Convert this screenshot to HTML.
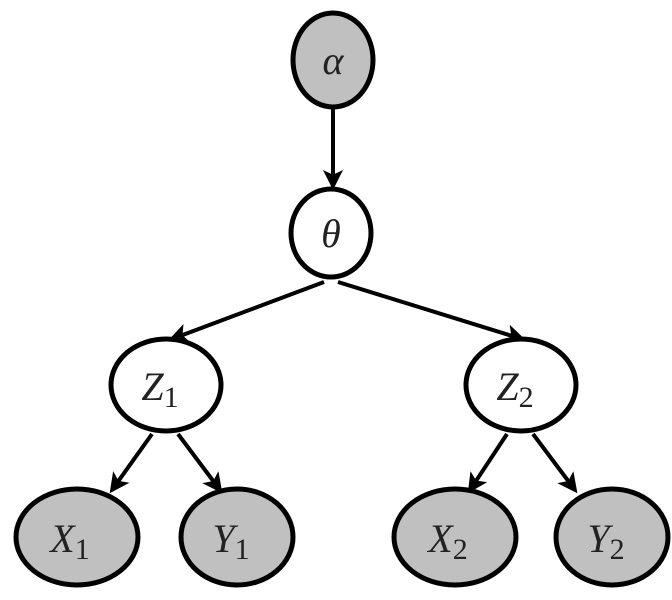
<!DOCTYPE html>
<html><head><style>body{margin:0;background:#fff}</style></head><body>
<svg width="672" height="595" viewBox="0 0 672 595" xmlns="http://www.w3.org/2000/svg">
<defs><marker id="a" markerWidth="5" markerHeight="5" refX="4" refY="2.5" orient="auto" markerUnits="strokeWidth"><path d="M0,0 L5,2.5 L0,5 L1.2,2.5 z" fill="#000"/></marker></defs>
<g stroke="#000" stroke-width="4" fill="none" marker-end="url(#a)">
<line x1="333" y1="108" x2="333" y2="186"/>
<line x1="324" y1="282" x2="172" y2="339"/>
<line x1="338" y1="282" x2="522" y2="339"/>
<line x1="152" y1="434" x2="112" y2="490"/>
<line x1="178" y1="434" x2="220" y2="490"/>
<line x1="507" y1="434" x2="470" y2="490"/>
<line x1="533" y1="434" x2="575" y2="490"/>
</g>
<g stroke="#000" stroke-width="5">
<ellipse cx="333" cy="60" rx="40" ry="47" fill="#c0c0c0"/>
<ellipse cx="331" cy="233" rx="40" ry="44" fill="#fff"/>
<ellipse cx="166" cy="385" rx="55" ry="46" fill="#fff"/>
<ellipse cx="521" cy="385" rx="55" ry="46" fill="#fff"/>
<ellipse cx="77" cy="537" rx="61" ry="48" fill="#c0c0c0"/>
<ellipse cx="237" cy="537" rx="56" ry="48" fill="#c0c0c0"/>
<ellipse cx="455" cy="537" rx="61" ry="48" fill="#c0c0c0"/>
<ellipse cx="612" cy="537" rx="56" ry="48" fill="#c0c0c0"/>
</g>
<g style="font-family:'Liberation Serif',serif" font-style="italic" font-size="40" fill="#222" text-anchor="middle">
<text x="333" y="74">α</text>
<text x="331" y="247">θ</text>
<text x="160" y="400">Z<tspan font-style="normal" font-size="30" dy="7">1</tspan></text>
<text x="515" y="400">Z<tspan font-style="normal" font-size="30" dy="7">2</tspan></text>
<text x="70" y="552">X<tspan font-style="normal" font-size="30" dy="7">1</tspan></text>
<text x="231" y="552">Y<tspan font-style="normal" font-size="30" dy="7">1</tspan></text>
<text x="448" y="552">X<tspan font-style="normal" font-size="30" dy="7">2</tspan></text>
<text x="606" y="552">Y<tspan font-style="normal" font-size="30" dy="7">2</tspan></text>
</g>
</svg>
</body></html>
